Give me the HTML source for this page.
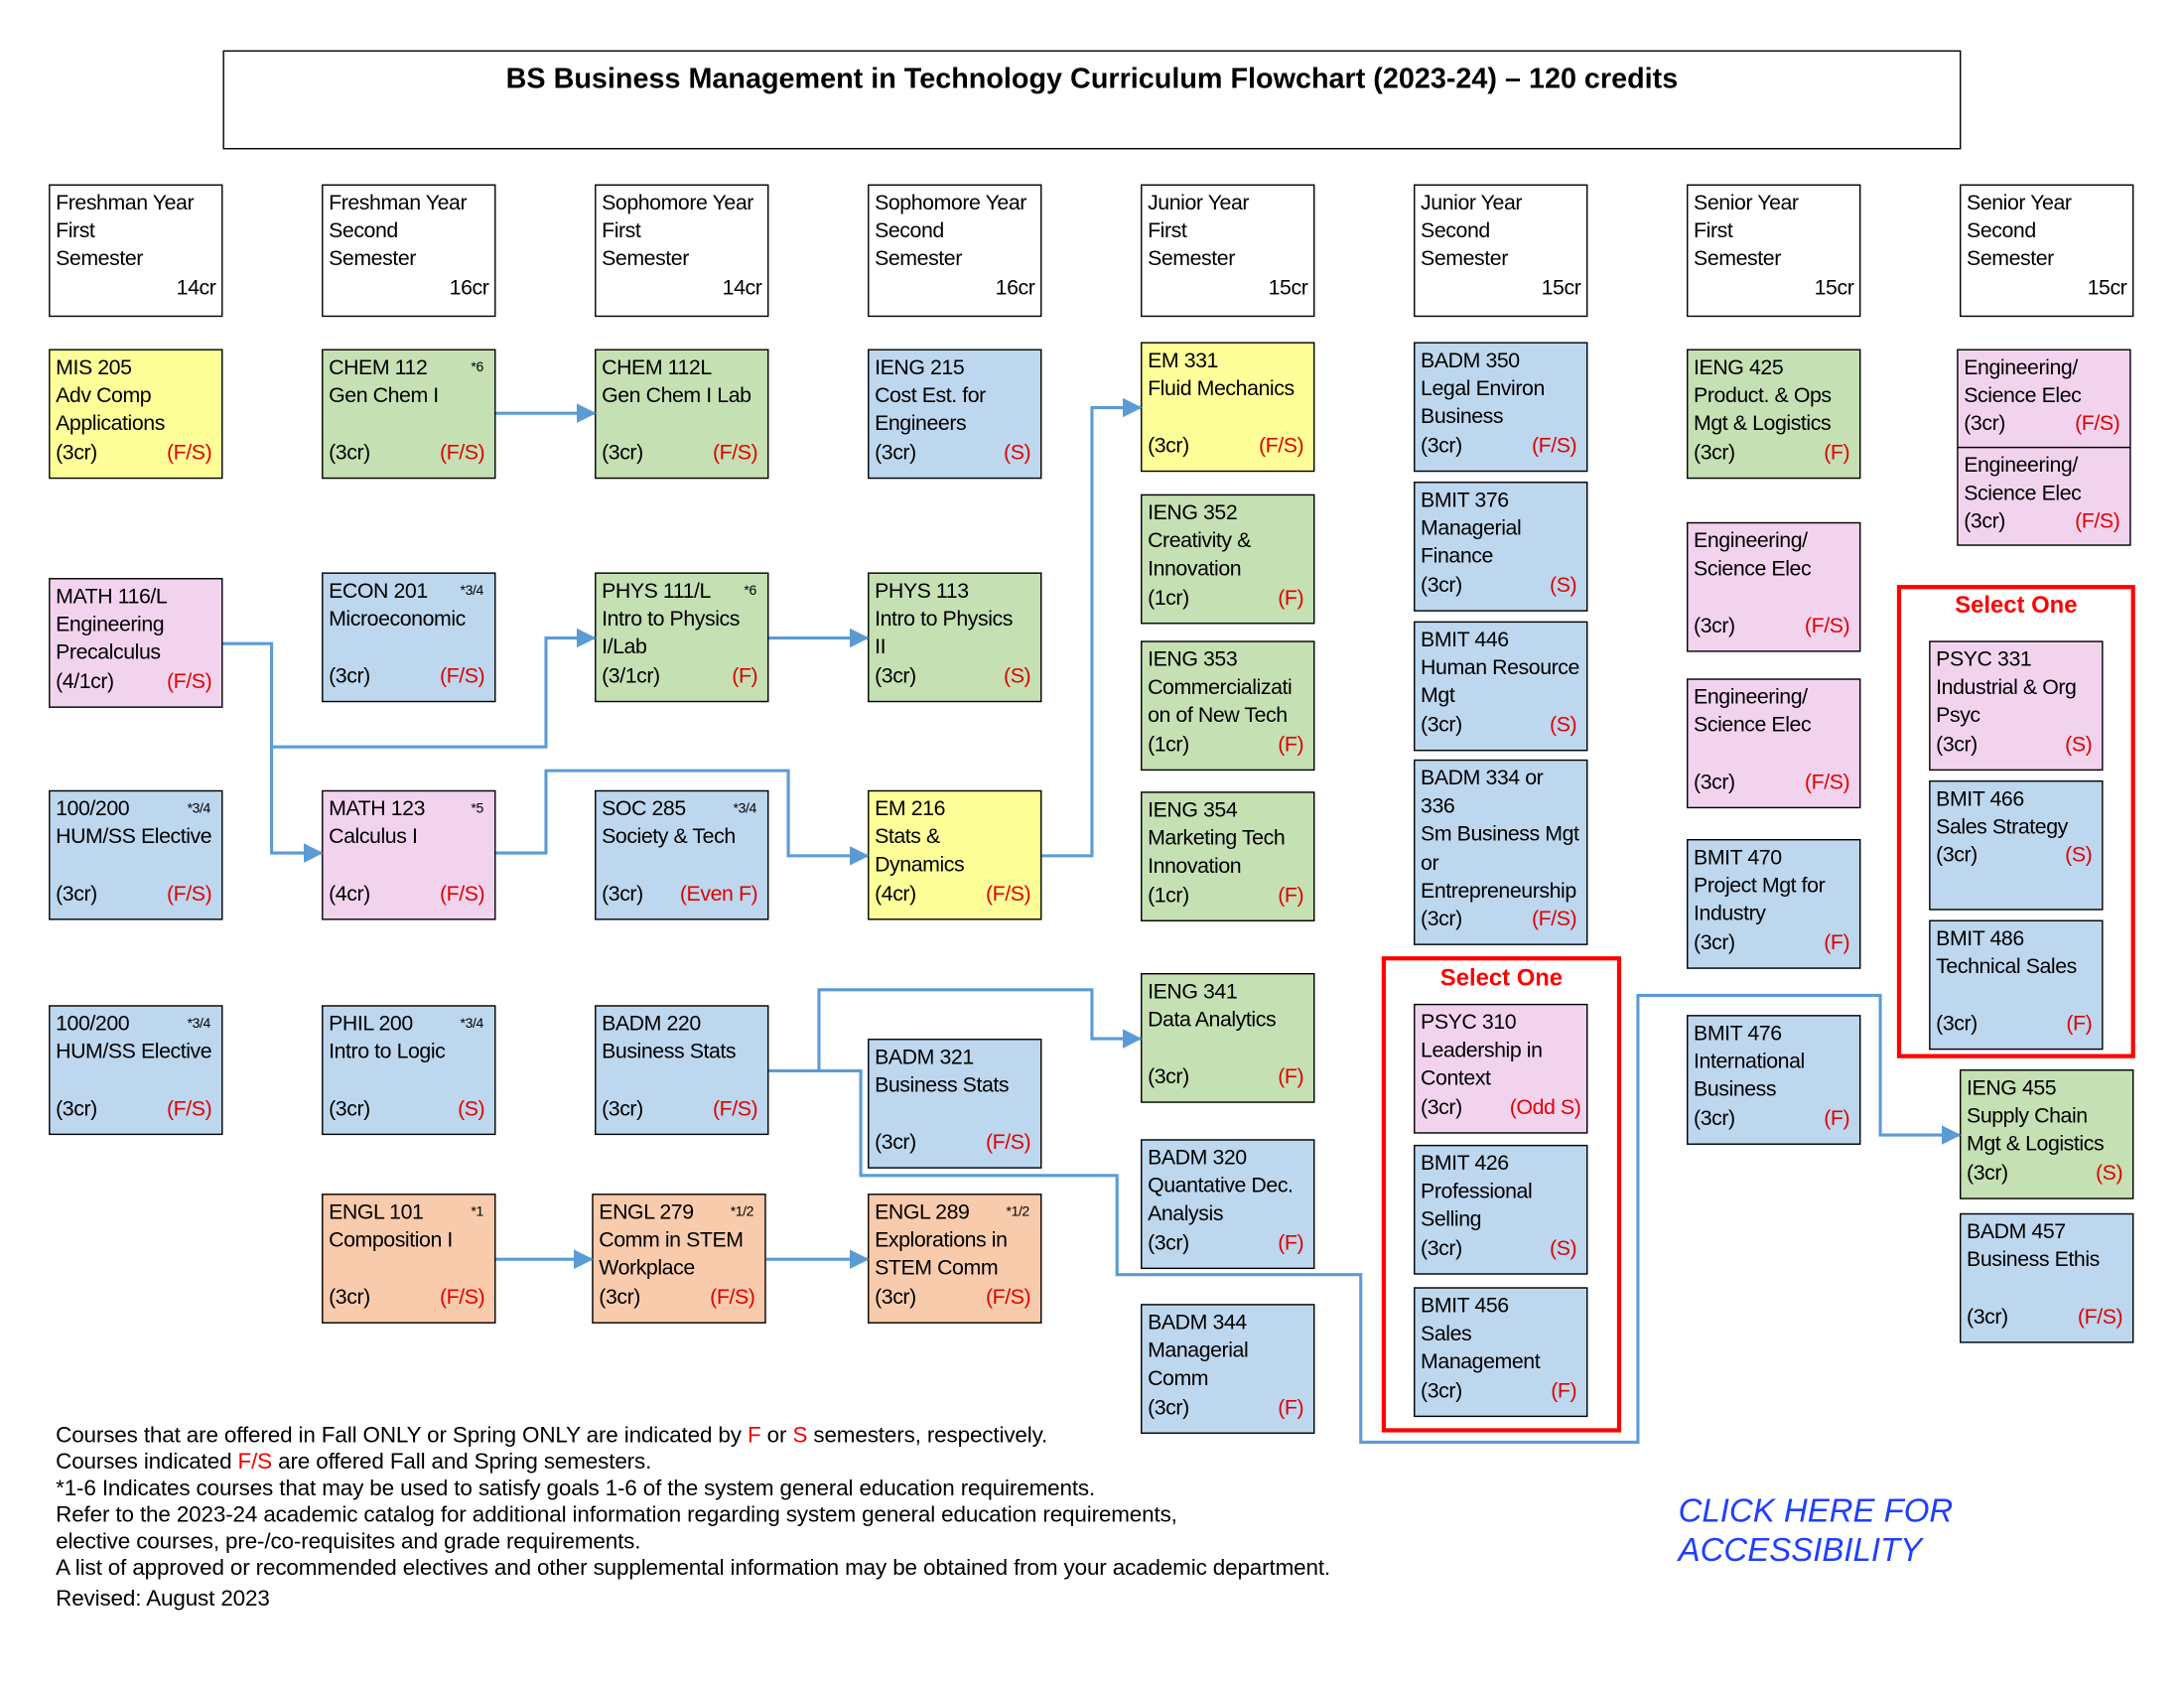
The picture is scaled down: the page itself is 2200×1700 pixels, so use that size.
<!DOCTYPE html><html><head><meta charset="utf-8"><style>
html,body{margin:0;padding:0;background:#fff;width:2200px;height:1700px;overflow:hidden}
#w{position:absolute;left:0;top:0;width:1552px;height:1200px;transform:scale(1.403,1.406);transform-origin:0 0;font-family:"Liberation Sans",sans-serif}
.b{position:absolute;width:125px;height:93px;border:1.4px solid #000;box-sizing:border-box;padding:3px 4px;font-size:15.2px;line-height:20.2px;white-space:nowrap;overflow:hidden;letter-spacing:-0.3px}
.r{display:flex;justify-content:space-between}
.f{color:#e00000;padding-right:3px}
.s{font-size:10px;padding-right:4px}
.y{background:#ffff99}.g{background:#c5e0b3}.u{background:#bdd7ee}.p{background:#f2d3ee}.o{background:#f8cbad}
.h{height:95px}
.h .c{text-align:right}
.red{position:absolute;border:3px solid #f00;box-sizing:border-box}
.sel{position:absolute;color:#f00;font-weight:bold;font-size:17px;text-align:center}
#ft{position:absolute;left:40px;top:1019px;font-size:16px;line-height:19.1px;letter-spacing:-0.1px}
</style></head><body><div id="w">
<div style="position:absolute;left:160px;top:36px;width:1248px;height:71px;border:1.4px solid #000;box-sizing:border-box;text-align:center;font-weight:bold;font-size:20.5px;padding-top:8px">BS Business Management in Technology Curriculum Flowchart (2023-24) – 120 credits</div>

<div class="b h" style="left:35px;top:132px">Freshman Year<br>First<br>Semester<div class="c">14cr</div></div>
<div class="b h" style="left:231px;top:132px">Freshman Year<br>Second<br>Semester<div class="c">16cr</div></div>
<div class="b h" style="left:427px;top:132px">Sophomore Year<br>First<br>Semester<div class="c">14cr</div></div>
<div class="b h" style="left:623px;top:132px">Sophomore Year<br>Second<br>Semester<div class="c">16cr</div></div>
<div class="b h" style="left:819px;top:132px">Junior Year<br>First<br>Semester<div class="c">15cr</div></div>
<div class="b h" style="left:1015px;top:132px">Junior Year<br>Second<br>Semester<div class="c">15cr</div></div>
<div class="b h" style="left:1211px;top:132px">Senior Year<br>First<br>Semester<div class="c">15cr</div></div>
<div class="b h" style="left:1407px;top:132px">Senior Year<br>Second<br>Semester<div class="c">15cr</div></div>

<div class="b y" style="left:35px;top:250px">MIS 205<br>Adv Comp<br>Applications<div class="r"><span>(3cr)</span><span class="f">(F/S)</span></div></div>
<div class="b p" style="left:35px;top:414px">MATH 116/L<br>Engineering<br>Precalculus<div class="r"><span>(4/1cr)</span><span class="f">(F/S)</span></div></div>
<div class="b u" style="left:35px;top:566px"><div class="r"><span>100/200</span><span class="s">*3/4</span></div>HUM/SS Elective<br>&nbsp;<div class="r"><span>(3cr)</span><span class="f">(F/S)</span></div></div>
<div class="b u" style="left:35px;top:720px"><div class="r"><span>100/200</span><span class="s">*3/4</span></div>HUM/SS Elective<br>&nbsp;<div class="r"><span>(3cr)</span><span class="f">(F/S)</span></div></div>

<div class="b g" style="left:231px;top:250px"><div class="r"><span>CHEM 112</span><span class="s">*6</span></div>Gen Chem I<br>&nbsp;<div class="r"><span>(3cr)</span><span class="f">(F/S)</span></div></div>
<div class="b u" style="left:231px;top:410px"><div class="r"><span>ECON 201</span><span class="s">*3/4</span></div>Microeconomic<br>&nbsp;<div class="r"><span>(3cr)</span><span class="f">(F/S)</span></div></div>
<div class="b p" style="left:231px;top:566px"><div class="r"><span>MATH 123</span><span class="s">*5</span></div>Calculus I<br>&nbsp;<div class="r"><span>(4cr)</span><span class="f">(F/S)</span></div></div>
<div class="b u" style="left:231px;top:720px"><div class="r"><span>PHIL 200</span><span class="s">*3/4</span></div>Intro to Logic<br>&nbsp;<div class="r"><span>(3cr)</span><span class="f">(S)</span></div></div>
<div class="b o" style="left:231px;top:855px"><div class="r"><span>ENGL 101</span><span class="s">*1</span></div>Composition I<br>&nbsp;<div class="r"><span>(3cr)</span><span class="f">(F/S)</span></div></div>

<div class="b g" style="left:427px;top:250px">CHEM 112L<br>Gen Chem I Lab<br>&nbsp;<div class="r"><span>(3cr)</span><span class="f">(F/S)</span></div></div>
<div class="b g" style="left:427px;top:410px"><div class="r"><span>PHYS 111/L</span><span class="s">*6</span></div>Intro to Physics<br>I/Lab<div class="r"><span>(3/1cr)</span><span class="f">(F)</span></div></div>
<div class="b u" style="left:427px;top:566px"><div class="r"><span>SOC 285</span><span class="s">*3/4</span></div>Society &amp; Tech<br>&nbsp;<div class="r"><span>(3cr)</span><span class="f">(Even F)</span></div></div>
<div class="b u" style="left:427px;top:720px">BADM 220<br>Business Stats<br>&nbsp;<div class="r"><span>(3cr)</span><span class="f">(F/S)</span></div></div>
<div class="b o" style="left:425px;top:855px"><div class="r"><span>ENGL 279</span><span class="s">*1/2</span></div>Comm in STEM<br>Workplace<div class="r"><span>(3cr)</span><span class="f">(F/S)</span></div></div>

<div class="b u" style="left:623px;top:250px">IENG 215<br>Cost Est. for<br>Engineers<div class="r"><span>(3cr)</span><span class="f">(S)</span></div></div>
<div class="b g" style="left:623px;top:410px">PHYS 113<br>Intro to Physics<br>II<div class="r"><span>(3cr)</span><span class="f">(S)</span></div></div>
<div class="b y" style="left:623px;top:566px">EM 216<br>Stats &amp;<br>Dynamics<div class="r"><span>(4cr)</span><span class="f">(F/S)</span></div></div>
<div class="b u" style="left:623px;top:744px">BADM 321<br>Business Stats<br>&nbsp;<div class="r"><span>(3cr)</span><span class="f">(F/S)</span></div></div>
<div class="b o" style="left:623px;top:855px"><div class="r"><span>ENGL 289</span><span class="s">*1/2</span></div>Explorations in<br>STEM Comm<div class="r"><span>(3cr)</span><span class="f">(F/S)</span></div></div>

<div class="b y" style="left:819px;top:245px">EM 331<br>Fluid Mechanics<br>&nbsp;<div class="r"><span>(3cr)</span><span class="f">(F/S)</span></div></div>
<div class="b g" style="left:819px;top:354px">IENG 352<br>Creativity &amp;<br>Innovation<div class="r"><span>(1cr)</span><span class="f">(F)</span></div></div>
<div class="b g" style="left:819px;top:459px">IENG 353<br>Commercializati<br>on of New Tech<div class="r"><span>(1cr)</span><span class="f">(F)</span></div></div>
<div class="b g" style="left:819px;top:567px">IENG 354<br>Marketing Tech<br>Innovation<div class="r"><span>(1cr)</span><span class="f">(F)</span></div></div>
<div class="b g" style="left:819px;top:697px">IENG 341<br>Data Analytics<br>&nbsp;<div class="r"><span>(3cr)</span><span class="f">(F)</span></div></div>
<div class="b u" style="left:819px;top:816px">BADM 320<br>Quantative Dec.<br>Analysis<div class="r"><span>(3cr)</span><span class="f">(F)</span></div></div>
<div class="b u" style="left:819px;top:934px">BADM 344<br>Managerial<br>Comm<div class="r"><span>(3cr)</span><span class="f">(F)</span></div></div>

<div class="b u" style="left:1015px;top:245px">BADM 350<br>Legal Environ<br>Business<div class="r"><span>(3cr)</span><span class="f">(F/S)</span></div></div>
<div class="b u" style="left:1015px;top:345px">BMIT 376<br>Managerial<br>Finance<div class="r"><span>(3cr)</span><span class="f">(S)</span></div></div>
<div class="b u" style="left:1015px;top:445px">BMIT 446<br>Human Resource<br>Mgt<div class="r"><span>(3cr)</span><span class="f">(S)</span></div></div>
<div class="b u" style="left:1015px;top:544px;height:133px">BADM 334 or<br>336<br>Sm Business Mgt<br>or<br>Entrepreneurship<div class="r"><span>(3cr)</span><span class="f">(F/S)</span></div></div>
<div class="red" style="left:992px;top:685px;width:172px;height:341px"></div>
<div class="sel" style="left:992px;top:691px;width:172px">Select One</div>
<div class="b p" style="left:1015px;top:719px">PSYC 310<br>Leadership in<br>Context<div class="r"><span>(3cr)</span><span class="f" style="padding-right:0">(Odd S)</span></div></div>
<div class="b u" style="left:1015px;top:820px">BMIT 426<br>Professional<br>Selling<div class="r"><span>(3cr)</span><span class="f">(S)</span></div></div>
<div class="b u" style="left:1015px;top:922px">BMIT 456<br>Sales<br>Management<div class="r"><span>(3cr)</span><span class="f">(F)</span></div></div>

<div class="b g" style="left:1211px;top:250px">IENG 425<br>Product. &amp; Ops<br>Mgt &amp; Logistics<div class="r"><span>(3cr)</span><span class="f">(F)</span></div></div>
<div class="b p" style="left:1211px;top:374px">Engineering/<br>Science Elec<br>&nbsp;<div class="r"><span>(3cr)</span><span class="f">(F/S)</span></div></div>
<div class="b p" style="left:1211px;top:486px">Engineering/<br>Science Elec<br>&nbsp;<div class="r"><span>(3cr)</span><span class="f">(F/S)</span></div></div>
<div class="b u" style="left:1211px;top:601px">BMIT 470<br>Project Mgt for<br>Industry<div class="r"><span>(3cr)</span><span class="f">(F)</span></div></div>
<div class="b u" style="left:1211px;top:727px">BMIT 476<br>International<br>Business<div class="r"><span>(3cr)</span><span class="f">(F)</span></div></div>

<div class="b p" style="left:1405px;top:250px;height:71px">Engineering/<br>Science Elec<div class="r"><span>(3cr)</span><span class="f">(F/S)</span></div></div>
<div class="b p" style="left:1405px;top:320px;height:71px">Engineering/<br>Science Elec<div class="r"><span>(3cr)</span><span class="f">(F/S)</span></div></div>
<div class="red" style="left:1362px;top:419px;width:171px;height:339px"></div>
<div class="sel" style="left:1362px;top:424px;width:171px">Select One</div>
<div class="b p" style="left:1385px;top:459px">PSYC 331<br>Industrial &amp; Org<br>Psyc<div class="r"><span>(3cr)</span><span class="f">(S)</span></div></div>
<div class="b u" style="left:1385px;top:559px">BMIT 466<br>Sales Strategy<div class="r"><span>(3cr)</span><span class="f">(S)</span></div></div>
<div class="b u" style="left:1385px;top:659px">BMIT 486<br>Technical Sales<br>&nbsp;<div class="r"><span>(3cr)</span><span class="f">(F)</span></div></div>
<div class="b g" style="left:1407px;top:766px">IENG 455<br>Supply Chain<br>Mgt &amp; Logistics<div class="r"><span>(3cr)</span><span class="f">(S)</span></div></div>
<div class="b u" style="left:1407px;top:869px">BADM 457<br>Business Ethis<br>&nbsp;<div class="r"><span>(3cr)</span><span class="f">(F/S)</span></div></div>

<svg style="position:absolute;left:0;top:0" width="1552" height="1200">
<defs><marker id="m" markerWidth="14" markerHeight="14" refX="13" refY="7" orient="auto" markerUnits="userSpaceOnUse" viewBox="0 0 14 14"><path d="M0,0L14,7L0,14z" fill="#5b9bd5"/></marker></defs>
<g fill="none" stroke="#5b9bd5" stroke-width="2.2">
<polyline points="356,296 427,296" marker-end="url(#m)"/>
<polyline points="160,461 195,461 195,611 231,611" marker-end="url(#m)"/>
<polyline points="195,535 392,535 392,457 427,457" marker-end="url(#m)"/>
<polyline points="552,457 623,457" marker-end="url(#m)"/>
<polyline points="356,611 392,611 392,552 566,552 566,613 623,613" marker-end="url(#m)"/>
<polyline points="748,613 784,613 784,292 819,292" marker-end="url(#m)"/>
<polyline points="552,767 588,767 588,709 784,709 784,744 819,744" marker-end="url(#m)"/>
<polyline points="588,767 618,767 618,842 802,842 802,913 977,913 977,1033 1176,1033 1176,713 1350,713 1350,813 1407,813" marker-end="url(#m)"/>
<polyline points="356,902 425,902" marker-end="url(#m)"/>
<polyline points="550,902 623,902" marker-end="url(#m)"/>
</g></svg>

<div id="ft">Courses that are offered in Fall ONLY or Spring ONLY are indicated by <span style="color:#e00">F</span> or <span style="color:#e00">S</span> semesters, respectively.<br>Courses indicated <span style="color:#e00">F/S</span> are offered Fall and Spring semesters.<br>*1-6 Indicates courses that may be used to satisfy goals 1-6 of the system general education requirements.<br>Refer to the 2023-24 academic catalog for additional information regarding system general education requirements,<br>elective courses, pre-/co-requisites and grade requirements.<br>A list of approved or recommended electives and other supplemental information may be obtained from your academic department.<br><span style="line-height:24px">Revised: August 2023</span></div>
<div style="position:absolute;left:1205px;top:1068px;color:#1f3fff;font-style:italic;font-size:23.5px;line-height:28px">CLICK HERE FOR<br>ACCESSIBILITY</div>
</div></body></html>
